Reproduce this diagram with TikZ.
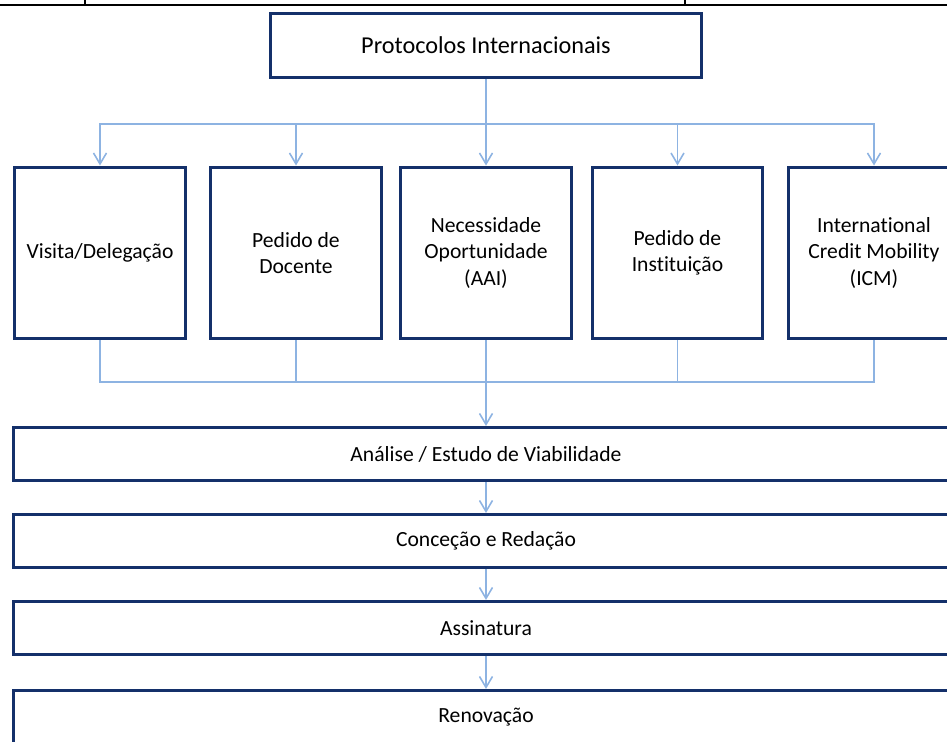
\documentclass[tikz,border=0pt]{standalone}
\usepackage{fontspec}
\setmainfont{Carlito}[Ligatures=NoCommon]
\usetikzlibrary{arrows.meta, positioning}

\definecolor{marinho}{HTML}{14306A}
\definecolor{azulclaro}{HTML}{8DB3E2}

\begin{document}
\begin{tikzpicture}[
    x=0.02cm, y=-0.02cm,
    caixa/.style  = {draw=marinho, line width=1.7pt, fill=white, align=center,
                     inner sep=2pt, font=\fontsize{12.3}{15}\selectfont},
    topo/.style   = {caixa, minimum width=8.62cm, minimum height=1.28cm,
                     font=\fontsize{13.8}{16}\selectfont},
    fonte/.style  = {caixa, minimum width=3.42cm, minimum height=3.44cm},
    etapa/.style  = {caixa, minimum width=18.9cm, minimum height=1.06cm,
                     font=\fontsize{12.3}{15}\selectfont},
    lig/.style    = {draw=azulclaro, line width=0.9pt},
    arr/.style    = {lig, -{Straight Barb[length=2.2mm, width=2.6mm]}},
]
\useasboundingbox (0,0) rectangle (947,742);

% --- Linha da tabela ---
\draw[line width=1.3pt] (0,5) -- (947,5);
\draw[line width=0.6pt] (85,0) -- (85,5);
\draw[line width=0.6pt] (685,0) -- (685,5);

% --- Caixa principal ---
\node[topo] (prot) at (486,45.5) {Protocolos Internacionais};

% --- Origens do protocolo ---
\node[fonte] (visita) at (100,253)   {Visita/Delegação};
\node[fonte] (docente) at (296,253)  {Pedido de\\Docente};
\node[fonte] (aai) at (486,253)      {Necessidade\\Oportunidade\\(AAI)};
\node[fonte] (inst) at (677.5,253)   {Pedido de\\Instituição};
\node[fonte] (icm) at (874,253)      {International\\Credit Mobility\\(ICM)};

% --- Etapas ---
\node[etapa] (analise) at (486,454)  {Análise / Estudo de Viabilidade};
\node[etapa] (redacao) at (486,541)  {Conceção e Redação};
\node[etapa] (assin) at (486,628)    {Assinatura};
\node[etapa] (renov) at (486,717)    {Renovação};

% --- Ramificação ---
\coordinate (div) at (486,124);
\coordinate (jun) at (486,382);
\draw[lig] (prot.south) -- (div);
\draw[arr] (div) -| (visita.north);
\draw[arr] (div) -| (docente.north);
\draw[arr] (div) -- (aai.north);
\draw[arr] (div) -| (inst.north);
\draw[arr] (div) -| (icm.north);

% --- Junção ---
\draw[lig] (visita.south) |- (jun);
\draw[lig] (docente.south) |- (jun);
\draw[lig] (aai.south) -- (jun);
\draw[lig] (inst.south) |- (jun);
\draw[lig] (icm.south) |- (jun);
\draw[arr] (jun) -- (analise.north);

% --- Sequência ---
\draw[arr] (analise.south) -- (redacao.north);
\draw[arr] (redacao.south) -- (assin.north);
\draw[arr] (assin.south) -- (renov.north);

\end{tikzpicture}
\end{document}
